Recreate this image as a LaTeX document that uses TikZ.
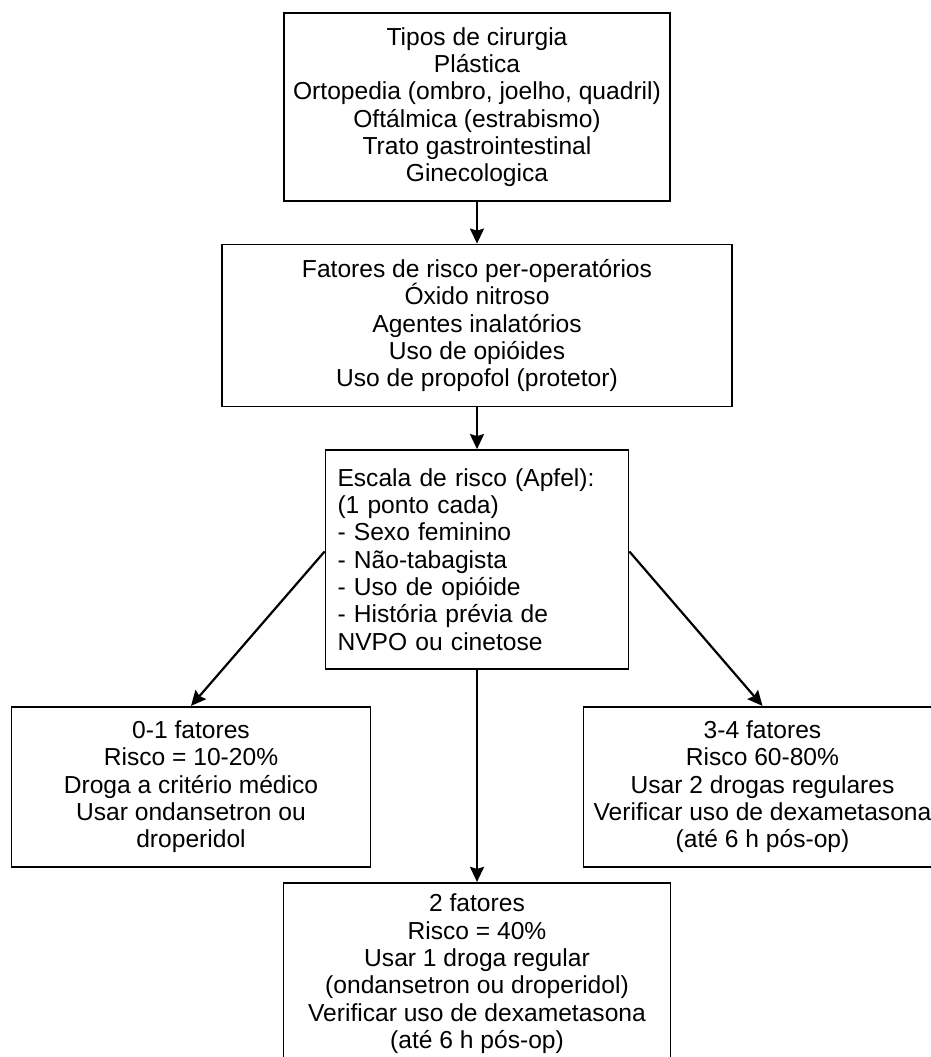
\documentclass[tikz,border=0pt]{standalone}
\usepackage{fontspec}
\setmainfont{Liberation Sans}
\usepackage{tikz}
\usetikzlibrary{arrows.meta,positioning}

\begin{document}
\begin{tikzpicture}[
    x=1pt, y=1pt,
    box/.style={rectangle, draw, line width=1.8pt, align=center, inner sep=0pt,
        font=\fontsize{24.6pt}{27.3pt}\selectfont},
    arrow/.style={->, line width=2.2pt, >={Stealth[length=15pt, width=14pt, inset=2pt]}}
]
\useasboundingbox (0,0) rectangle (931,-1057);

% Top: surgery types and per-operative factors
\node[box, minimum width=386pt, minimum height=188pt] (tipos) at (477,-107)
    {Tipos de cirurgia\\Plástica\\Ortopedia (ombro, joelho, quadril)\\Oftálmica (estrabismo)\\Trato gastrointestinal\\Ginecologica};
\node[box, minimum width=510pt, minimum height=162pt, below=41.7pt of tipos] (fatores)
    {Fatores de risco per-operatórios\\Óxido nitroso\\Agentes inalatórios\\Uso de opióides\\Uso de propofol (protetor)};

% Middle: Apfel score
\node[box, align=left, text width=279pt, inner xsep=12pt, minimum height=219pt, below=41.7pt of fatores] (apfel)
    {Escala de risco (Apfel):\\(1 ponto cada)\\- Sexo feminino\\- Não-tabagista\\- Uso de opióide\\- História prévia de\\NVPO ou cinetose};

% Bottom: risk groups
\node[box, minimum width=359pt, minimum height=160pt, below=36pt of apfel, xshift=-286pt] (baixo)
    {0-1 fatores\\Risco = 10-20\%\\Droga a critério médico\\Usar ondansetron ou\\droperidol};
\node[box, minimum width=358pt, minimum height=160pt, below=36pt of apfel, xshift=285.5pt] (alto)
    {3-4 fatores\\Risco 60-80\%\\Usar 2 drogas regulares\\Verificar uso de dexametasona\\(até 6 h pós-op)};
\node[box, minimum width=387pt, minimum height=182pt, below=212pt of apfel] (medio)
    {2 fatores\\Risco = 40\%\\Usar 1 droga regular\\(ondansetron ou droperidol)\\Verificar uso de dexametasona\\(até 6 h pós-op)};

% Arrows
\draw[arrow] (tipos) -- (fatores);
\draw[arrow] (fatores) -- (apfel);
\draw[arrow] ([yshift=8pt]apfel.west) -- (baixo.north);
\draw[arrow] ([yshift=8pt]apfel.east) -- (alto.north);
\draw[arrow] (apfel) -- (medio);

\end{tikzpicture}
\end{document}
